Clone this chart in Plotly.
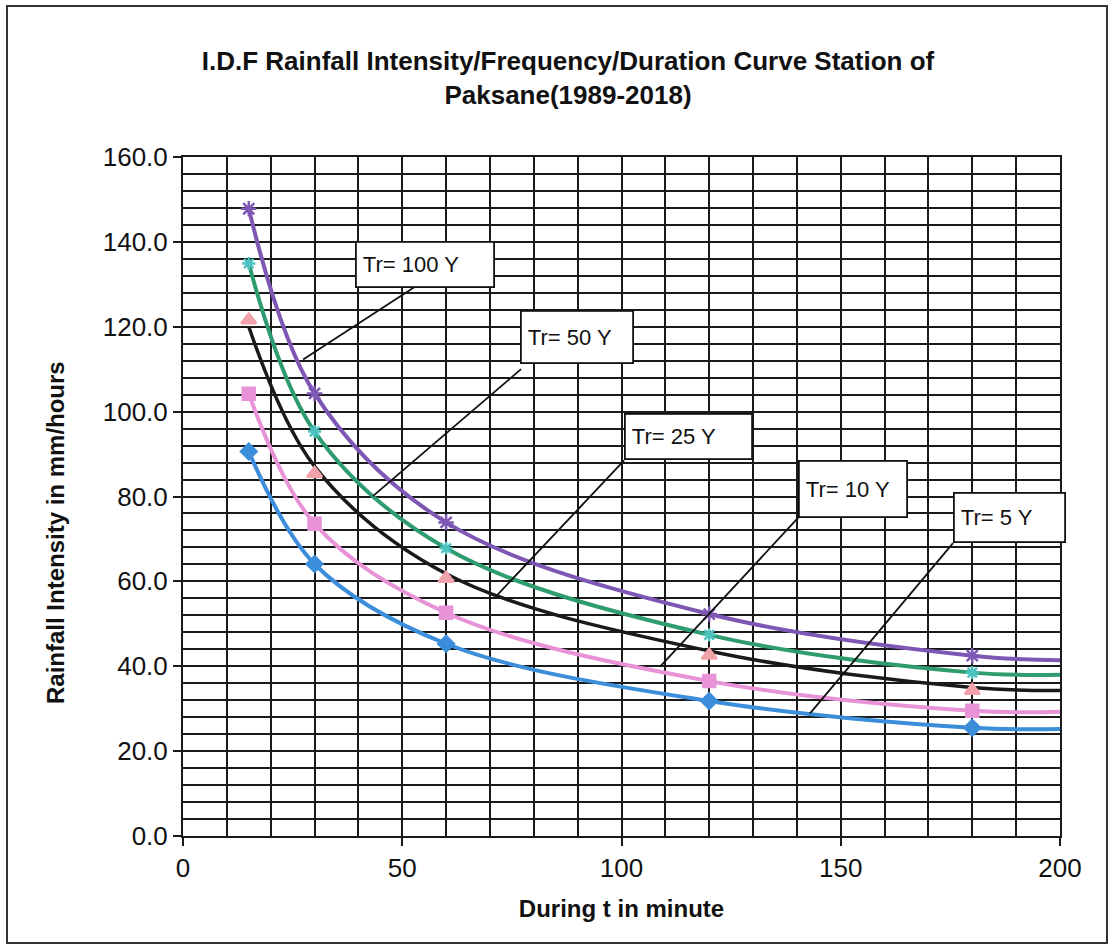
import plotly.graph_objects as go

# ---------------- data ----------------
durations = [15, 30, 60, 120, 180]           # marker positions (min)
line_durations = [15, 30, 60, 120, 180, 200]  # curve positions (min)

tr100_pts = [147.8, 104.3, 73.9, 52.3, 42.5]
tr100_line = [147.8, 104.3, 73.9, 52.3, 42.5, 41.4]
tr50_pts = [134.9, 95.3, 67.8, 47.4, 38.5]
tr50_line = [134.9, 95.3, 67.8, 47.4, 38.5, 38.0]
tr25_pts = [121.6, 85.4, 60.7, 42.6, 34.3]
tr25_line = [120.0, 87.1, 61.8, 43.6, 35.0, 34.3]
tr10_pts = [104.2, 73.6, 52.6, 36.5, 29.5]
tr10_line = [104.2, 73.6, 52.6, 36.5, 29.5, 29.3]
tr5_pts = [90.6, 64.1, 45.3, 31.8, 25.5]
tr5_line = [90.6, 64.1, 45.3, 31.8, 25.5, 25.2]

x_ticks = [0, 50, 100, 150, 200]
y_ticks = [0, 20, 40, 60, 80, 100, 120, 140, 160]

labels = ["Tr= 100 Y", "Tr= 50 Y", "Tr= 25 Y", "Tr= 10 Y", "Tr= 5 Y"]
# label box top-left corner (data units) and box size (px)
label_x = [39.2, 76.9, 100.6, 140.3, 175.6]
label_y = [140.3, 124.0, 99.6, 88.7, 81.0]
label_w = [140, 114, 129, 110, 113]
label_h = [47, 54, 47, 58, 51]
# leader lines: start (near box) -> end (on curve), data units
lead_x0 = [52.9, 77.1, 100.6, 140.3, 175.6]
lead_y0 = [129.4, 110.0, 88.5, 75.0, 69.0]
lead_x1 = [27.4, 43.3, 71.6, 108.8, 143.0]
lead_y1 = [112.3, 80.1, 56.7, 39.9, 28.9]

# ---------------- layout constants ----------------
W, H = 1113, 950
L, R, T, B = 183, 1060, 157, 836
FONT = "Liberation Sans, Arial, sans-serif"

fig = go.Figure()

series = [
    (tr5_line, tr5_pts, "#3C8EDB", "#3C8EDB", "diamond", 12, "Tr= 5 Y"),
    (tr10_line, tr10_pts, "#E893D8", "#E893D8", "square", 12, "Tr= 10 Y"),
    (tr25_line, tr25_pts, "#1a1a1a", "#F2A2AA", "triangle-up", 13, "Tr= 25 Y"),
    (tr50_line, tr50_pts, "#2F9C70", "#4CC3C0", "asterisk-open", 11, "Tr= 50 Y"),
    (tr100_line, tr100_pts, "#7E57B5", "#7E57B5", "asterisk-open", 13, "Tr= 100 Y"),
]
for line_vals, pts, lc, mc, sym, ms, name in series:
    fig.add_trace(go.Scatter(
        x=line_durations, y=line_vals, mode="lines", name=name,
        line=dict(color=lc, width=4 if lc != "#1a1a1a" else 3.5, shape="spline", smoothing=1.0),
        showlegend=False, hoverinfo="skip"))
    fig.add_trace(go.Scatter(
        x=durations, y=pts, mode="markers", name=name,
        marker=dict(symbol=sym, size=ms, color=mc,
                    line=dict(color=mc, width=2.5)),
        showlegend=False))

grid_col = "#1a1a1a"
fig.update_xaxes(
    range=[0, 200], tickvals=x_ticks, ticktext=[str(v) for v in x_ticks],
    showgrid=True, gridcolor=grid_col, gridwidth=1.8,
    minor=dict(dtick=10, showgrid=True, gridcolor=grid_col, gridwidth=1.8),
    showline=True, linecolor=grid_col, linewidth=2, mirror=True,
    ticks="outside", ticklen=8, tickwidth=1.6, tickcolor=grid_col,
    tickfont=dict(family=FONT, size=26, color="#111"),
    title=dict(text="<b>During t in minute</b>", font=dict(family=FONT, size=24, color="#111"), standoff=18),
    zeroline=False, fixedrange=True)
fig.update_yaxes(
    range=[0, 160], tickvals=y_ticks, ticktext=[f"{v:.1f}" for v in y_ticks],
    showgrid=True, gridcolor=grid_col, gridwidth=1.8,
    minor=dict(dtick=4, showgrid=True, gridcolor=grid_col, gridwidth=1.6),
    showline=True, linecolor=grid_col, linewidth=2, mirror=True,
    ticks="outside", ticklen=8, tickwidth=1.6, tickcolor=grid_col,
    tickfont=dict(family=FONT, size=26, color="#111"),
    zeroline=False, fixedrange=True)

shapes = []
# outer frame of the chart
def px2paper_x(px):
    return (px - L) / (R - L)
def px2paper_y(py):
    return (B - py) / (B - T)
shapes.append(dict(type="rect", xref="paper", yref="paper",
                   x0=px2paper_x(7), x1=px2paper_x(1107), y0=px2paper_y(943), y1=px2paper_y(6),
                   line=dict(color="#333", width=2), layer="below"))
for i in range(len(labels)):
    shapes.append(dict(type="line", xref="x", yref="y",
                       x0=lead_x0[i], y0=lead_y0[i], x1=lead_x1[i], y1=lead_y1[i],
                       line=dict(color="#111", width=1.8)))

annotations = []
bp, bw = 6, 1.8
for i, txt in enumerate(labels):
    annotations.append(dict(
        x=label_x[i], y=label_y[i], xref="x", yref="y",
        xanchor="left", yanchor="top", showarrow=False,
        text=txt, align="left", valign="middle",
        width=label_w[i] - 2 * (bp + bw), height=label_h[i] - 2 * (bp + bw),
        bgcolor="white", bordercolor="#111", borderwidth=bw, borderpad=bp,
        font=dict(family=FONT, size=22, color="#111")))

# y-axis title (placed like the original, slightly below plot centre)
annotations.append(dict(
    x=px2paper_x(55), y=px2paper_y(533), xref="paper", yref="paper",
    xanchor="center", yanchor="middle", showarrow=False, textangle=-90,
    text="<b>Rainfall Intensity in mm/hours</b>",
    font=dict(family=FONT, size=24, color="#111")))

fig.update_layout(
    width=W, height=H,
    margin=dict(l=L, r=W - R, t=T, b=H - B, autoexpand=False),
    paper_bgcolor="white", plot_bgcolor="white",
    title=dict(text="<b>I.D.F Rainfall Intensity/Frequency/Duration Curve Station of<br>Paksane(1989-2018)</b>",
               x=568 / W, xanchor="center", xref="container",
               y=1 - 70 / H, yanchor="top", yref="container",
               font=dict(family=FONT, size=26, color="#111")),
    shapes=shapes, annotations=annotations, showlegend=False)

fig.write_html("out.html", include_plotlyjs=True, config={"displayModeBar": False})
